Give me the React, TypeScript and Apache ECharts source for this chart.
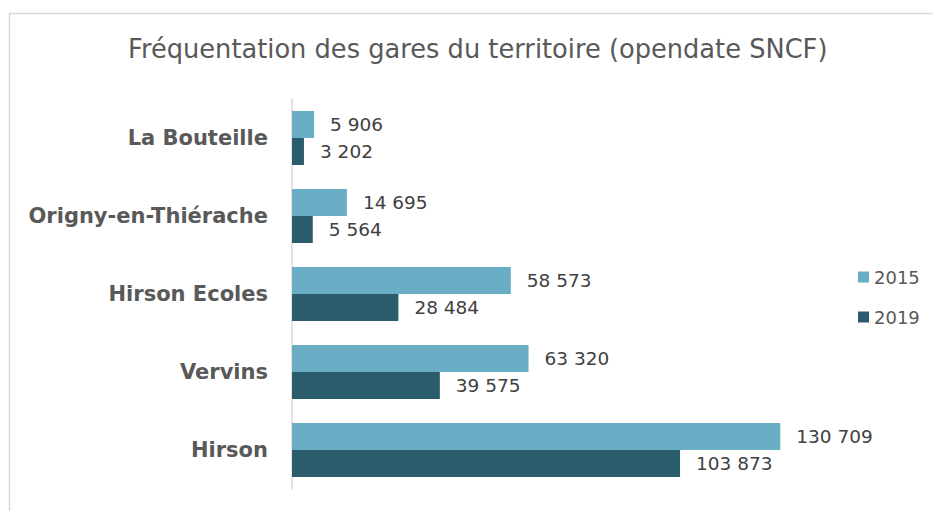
import React, { useEffect, useRef } from "react";
import * as echarts from "echarts";

const categories = ["Hirson", "Vervins", "Hirson Ecoles", "Origny-en-Thiérache", "La Bouteille"];
const values2015 = [130709, 63320, 58573, 14695, 5906];
const values2019 = [103873, 39575, 28484, 5564, 3202];
const seriesNames = ["2015", "2019"];
const titleText = "Fréquentation des gares du territoire (opendate SNCF)";

const fmt = (v: number) => String(v).replace(/\B(?=(\d{3})+(?!\d))/g, " ");

export default function App() {
  const ref = useRef<HTMLDivElement>(null);
  useEffect(() => {
    if (!ref.current) return;
    const chart = echarts.init(ref.current, undefined, { renderer: "svg" });
    const font = "DejaVu Sans";
    const labelStyle = {
      show: true,
      position: "right",
      distance: 16,
      fontFamily: font,
      fontSize: 18.5,
      color: "#404040",
      formatter: (p: any) => fmt(p.value),
    };
    chart.setOption({
      animation: false,
      backgroundColor: "#ffffff",
      textStyle: { fontFamily: font },
      graphic: [
        {
          type: "rect",
          shape: { x: 9.5, y: 13.5, width: 1000, height: 600 },
          style: { fill: "none", stroke: "#d9d9d9", lineWidth: 1.5 },
          silent: true,
        },
      ],
      title: {
        text: titleText,
        left: 123,
        top: 31,
        textStyle: { fontFamily: font, fontSize: 25.7, fontWeight: "normal", color: "#595959" },
      },
      legend: {
        orient: "vertical",
        left: 853,
        top: 263,
        itemWidth: 11,
        itemHeight: 11,
        itemGap: 22,
        icon: "rect",
        textStyle: { fontFamily: font, fontSize: 18, color: "#595959" },
        data: seriesNames,
      },
      grid: { left: 292, right: 118, top: 99, bottom: 22, containLabel: false },
      xAxis: {
        type: "value",
        min: 0,
        max: 140000,
        show: false,
      },
      yAxis: {
        type: "category",
        data: categories,
        axisLine: { show: true, lineStyle: { color: "#d9d9d9", width: 1.5 } },
        axisTick: { show: false },
        axisLabel: { fontFamily: font, fontSize: 21, fontWeight: "bold", color: "#595959", margin: 24 },
      },
      series: [
        {
          name: seriesNames[0],
          type: "bar",
          data: values2015,
          itemStyle: { color: "#6AAEC6" },
          barWidth: 27,
          barGap: "0%",
          label: labelStyle,
        },
        {
          name: seriesNames[1],
          type: "bar",
          data: values2019,
          itemStyle: { color: "#2B5C6B" },
          barWidth: 27,
          barGap: "0%",
          label: labelStyle,
        },
      ],
    });
    return () => chart.dispose();
  }, []);
  return (
    <div
      ref={ref}
      style={{ position: "fixed", left: 0, top: 0, width: 933, height: 511 }}
    />
  );
}
